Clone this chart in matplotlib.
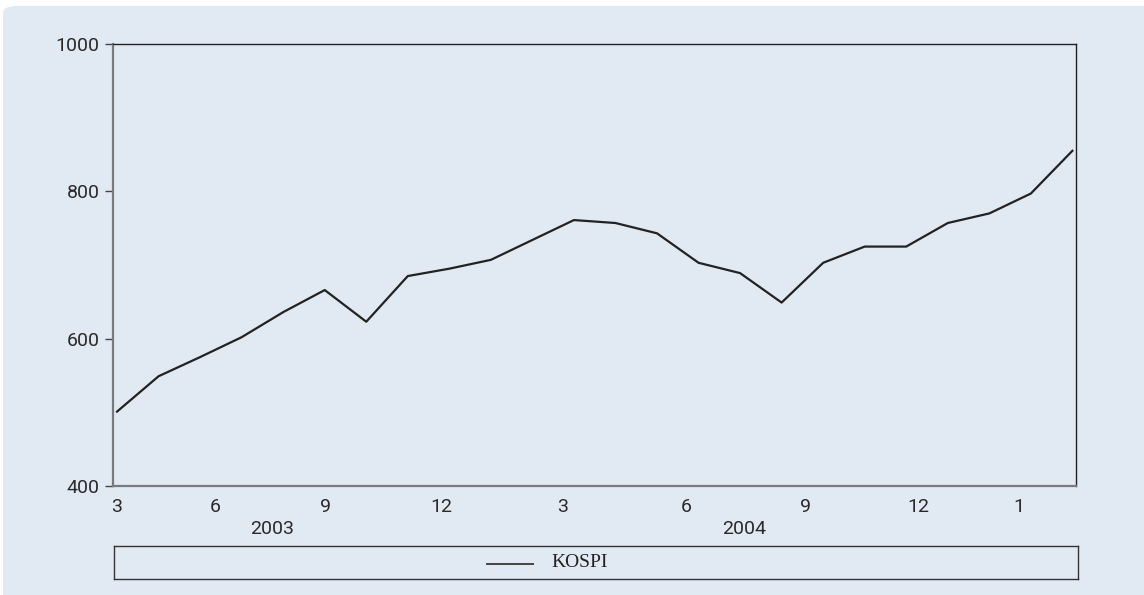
import matplotlib.pyplot as plt
from matplotlib.patches import FancyBboxPatch
from matplotlib.lines import Line2D

# KOSPI monthly closes, Mar 2003 onward
kospi = [501, 549, 575, 602, 636, 666, 623, 685, 695, 707, 734, 761,
         757, 743, 703, 689, 649, 703, 725, 725, 757, 770, 797, 855]
tick_labels = ['3', '6', '9', '12', '3', '6', '9', '12', '1']
tick_pos = [0, 2.37, 5.01, 7.81, 10.73, 13.71, 16.58, 19.3, 21.71]
years = ['2003', '2004']
year_pos = [3.73, 15.09]

bg = '#e1e9f3'
num_font = ['Roboto', 'DejaVu Sans']
num_kw = dict(family=num_font, weight='normal', size=14)

fig = plt.figure(figsize=(11.44, 5.95), dpi=100, facecolor='white')
W, H = 1144, 595

# rounded background panel
panel = FancyBboxPatch((3 / W, -0.1), 1.2, (595 - 6) / H + 0.1,
                       boxstyle='round,pad=0,rounding_size=0.012',
                       transform=fig.transFigure, facecolor=bg,
                       edgecolor='none', zorder=-10)
fig.patches.append(panel)

ax = fig.add_axes([113.3 / W, 1 - 486 / H, (1075.7 - 113.3) / W, (486 - 44) / H])
ax.set_facecolor(bg)
ax.plot(range(len(kospi)), kospi, color='#222222', lw=1.6)

ax.set_xlim(-0.09, 23.08)
ax.set_ylim(400, 1000)
ax.set_yticks([400, 600, 800, 1000])
ax.set_xticks(tick_pos)
ax.set_xticklabels(tick_labels)
ax.tick_params(axis='y', direction='out', length=6, width=1, color='#444444',
               pad=4, labelcolor='#2a2a2a')
ax.tick_params(axis='x', length=0, pad=9, labelcolor='#2a2a2a')
for lab in ax.get_xticklabels() + ax.get_yticklabels():
    lab.set(**num_kw)

for side in ['left', 'bottom']:
    ax.spines[side].set_color('#7a7a7a')
    ax.spines[side].set_linewidth(1.6)
for side in ['top', 'right']:
    ax.spines[side].set_color('#222222')
    ax.spines[side].set_linewidth(1.0)

for yr, xp in zip(years, year_pos):
    ax.text(xp, -0.097, yr, transform=ax.get_xaxis_transform(), ha='center',
            va='center', color='#2a2a2a', **num_kw)

# legend box below the plot
lax = fig.add_axes([114 / W, 1 - 579 / H, (1077.7 - 114) / W, (579 - 546) / H])
lax.set_facecolor(bg)
lax.set_xticks([])
lax.set_yticks([])
for s in lax.spines.values():
    s.set_color('#333333')
    s.set_linewidth(1.0)
lax.set_xlim(114, 1077.7)
lax.set_ylim(0, 1)
lax.add_line(Line2D([487, 533], [0.45, 0.45], color='#444444', lw=1.4))
lax.text(551, 0.5, 'KOSPI', ha='left', va='center', fontsize=14,
         family=['Liberation Serif', 'DejaVu Serif'], color='#222222')

fig.savefig('out.png', dpi=100, facecolor='white')
